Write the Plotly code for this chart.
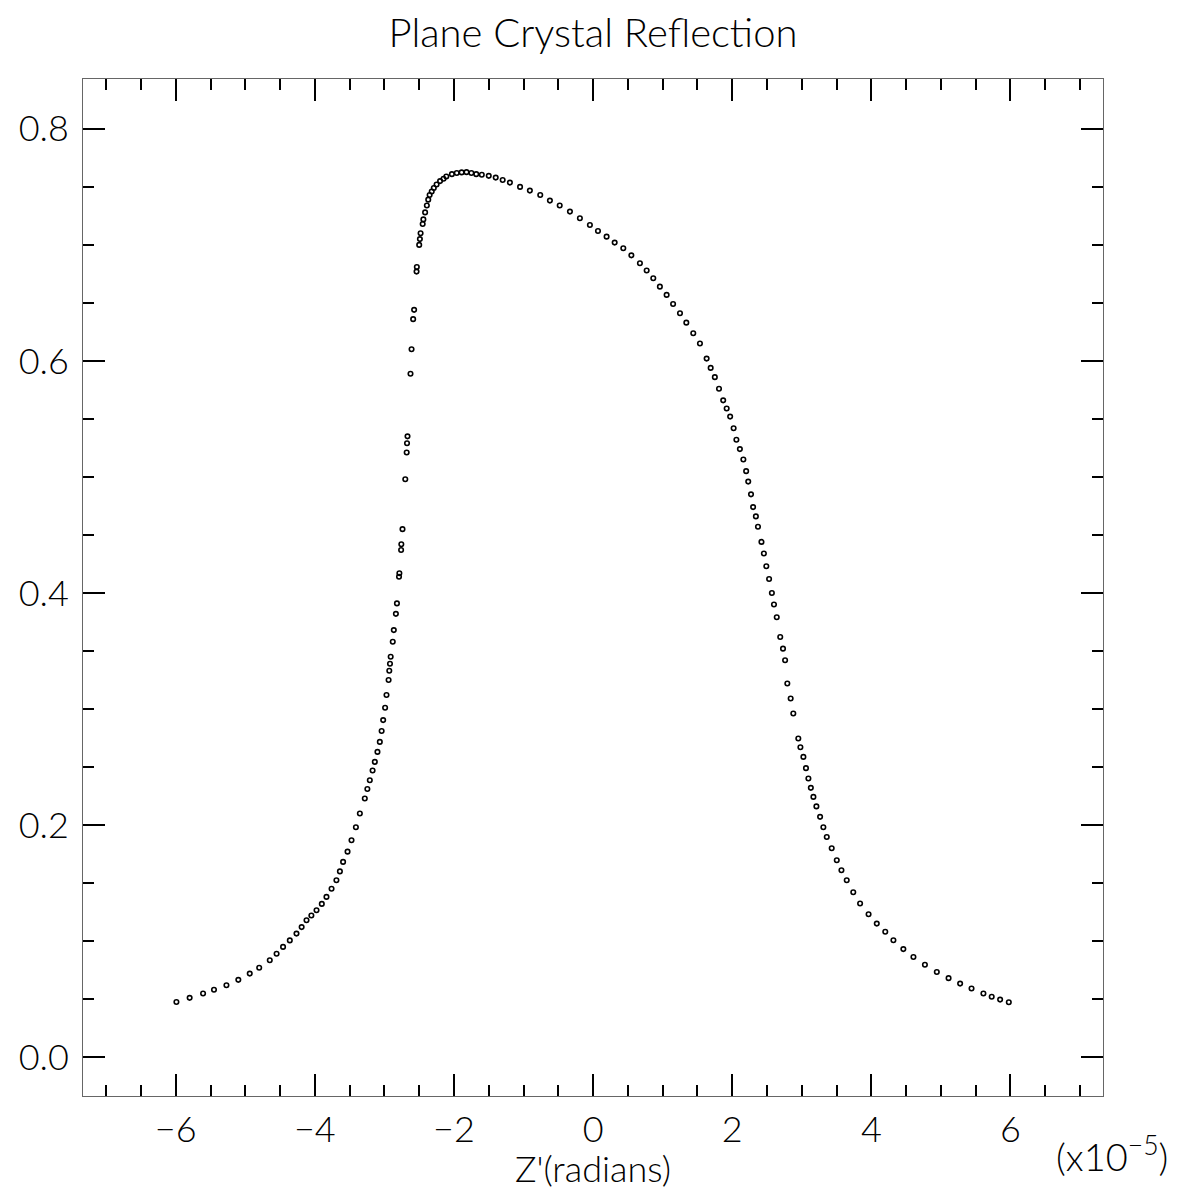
import plotly.graph_objects as go

# Z' (units of 1e-5 radians) and reflectivity
z_prime = [
    -5.99, -5.80, -5.607, -5.45, -5.271, -5.10, -4.936, -4.80, -4.648, -4.55,
    -4.457, -4.36, -4.264, -4.19, -4.12, -4.05, -3.976, -3.90, -3.833, -3.76,
    -3.69, -3.64, -3.594, -3.53, -3.473, -3.41, -3.353, -3.282, -3.245, -3.21,
    -3.17, -3.138, -3.10, -3.066, -3.04, -3.018, -2.99, -2.97, -2.94, -2.93,
    -2.92, -2.91, -2.88, -2.865, -2.835, -2.82, -2.79, -2.785, -2.76, -2.757,
    -2.74, -2.70, -2.68, -2.675, -2.668, -2.625, -2.61, -2.587, -2.573, -2.538,
    -2.534, -2.50, -2.49, -2.48, -2.45, -2.44, -2.415, -2.39, -2.37, -2.35,
    -2.32, -2.29, -2.25, -2.20, -2.15, -2.11, -2.03, -1.96, -1.89, -1.82,
    -1.75, -1.68, -1.60, -1.50, -1.40, -1.30, -1.196, -1.05, -0.909, -0.76,
    -0.621, -0.48, -0.333, -0.19, -0.046, 0.07, 0.194, 0.31, 0.434, 0.55,
    0.673, 0.77, 0.865, 0.96, 1.057, 1.15, 1.249, 1.34, 1.44, 1.536,
    1.632, 1.69, 1.75, 1.81, 1.87, 1.92, 1.97, 2.02, 2.06, 2.11,
    2.16, 2.20, 2.23, 2.27, 2.30, 2.34, 2.37, 2.42, 2.455, 2.49,
    2.53, 2.57, 2.60, 2.64, 2.69, 2.73, 2.76, 2.792, 2.84, 2.878,
    2.95, 2.98, 3.023, 3.06, 3.095, 3.13, 3.167, 3.21, 3.263, 3.31,
    3.359, 3.43, 3.503, 3.57, 3.646, 3.74, 3.838, 3.96, 4.078, 4.20,
    4.317, 4.46, 4.605, 4.77, 4.941, 5.11, 5.276, 5.44, 5.611, 5.73,
    5.851, 5.976,
]
reflectivity = [
    0.0474, 0.051, 0.0547, 0.058, 0.0618, 0.0665, 0.0719, 0.077, 0.0834, 0.089,
    0.0949, 0.1005, 0.1064, 0.112, 0.1179, 0.122, 0.1265, 0.132, 0.138, 0.145,
    0.1524, 0.160, 0.1682, 0.177, 0.1869, 0.198, 0.2099, 0.2228, 0.231, 0.2386,
    0.247, 0.2544, 0.263, 0.2716, 0.281, 0.2904, 0.301, 0.312, 0.325, 0.333,
    0.339, 0.345, 0.358, 0.368, 0.382, 0.391, 0.414, 0.417, 0.437, 0.442,
    0.455, 0.498, 0.521, 0.529, 0.535, 0.589, 0.610, 0.636, 0.644, 0.677,
    0.681, 0.700, 0.705, 0.710, 0.718, 0.722, 0.728, 0.734, 0.739, 0.743,
    0.746, 0.749, 0.752, 0.755, 0.757, 0.759, 0.761, 0.762, 0.7625, 0.7627,
    0.762, 0.761, 0.7605, 0.7595, 0.758, 0.756, 0.7537, 0.750, 0.7468, 0.743,
    0.7382, 0.734, 0.7287, 0.723, 0.7172, 0.712, 0.7071, 0.702, 0.6971, 0.691,
    0.6842, 0.678, 0.6713, 0.664, 0.6569, 0.649, 0.6411, 0.633, 0.6238, 0.615,
    0.602, 0.594, 0.586, 0.576, 0.566, 0.559, 0.552, 0.542, 0.532, 0.524,
    0.515, 0.505, 0.496, 0.485, 0.474, 0.466, 0.457, 0.444, 0.434, 0.423,
    0.412, 0.400, 0.390, 0.379, 0.362, 0.352, 0.342, 0.322, 0.309, 0.2961,
    0.2746, 0.267, 0.2587, 0.249, 0.2401, 0.232, 0.2242, 0.216, 0.207, 0.198,
    0.1897, 0.180, 0.1696, 0.161, 0.1524, 0.142, 0.1323, 0.123, 0.115, 0.108,
    0.1006, 0.093, 0.0862, 0.0795, 0.0733, 0.068, 0.0633, 0.059, 0.0547, 0.052,
    0.0495, 0.0472,
]

FONT = "Lato"
fig = go.Figure()
fig.add_trace(go.Scatter(
    x=z_prime, y=reflectivity, mode="markers",
    marker=dict(symbol="circle-open", size=4.5, color="black", line=dict(width=1.6, color="black")),
    showlegend=False,
))

axis_common = dict(
    showline=True, linecolor="#666", linewidth=1, mirror="ticks",
    ticks="inside", ticklen=22, tickwidth=2, tickcolor="black",
    showgrid=False, zeroline=False,
    tickfont=dict(family=FONT, size=36, color="black", weight=300),
)

fig.update_layout(
    width=1170, height=1187,
    margin=dict(l=75, r=75, t=71, b=99),
    plot_bgcolor="white", paper_bgcolor="white",
    title=dict(text="Plane Crystal Reflection", x=0.5, xanchor="center",
               yref="container", y=1 - 25 / 1187, yanchor="middle",
               font=dict(family=FONT, size=40, color="black", weight=300)),
    xaxis=dict(range=[-7.333, 7.33], tick0=0, dtick=2, tickformat="d",
               minor=dict(dtick=0.5, ticks="inside", ticklen=11, tickwidth=2, tickcolor="black"),
               ticklabelstandoff=2,
               **axis_common),
    yaxis=dict(range=[-0.0336, 0.843], tick0=0, dtick=0.2, tickformat=".1f",
               minor=dict(dtick=0.05, ticks="inside", ticklen=11, tickwidth=2, tickcolor="black"),
               ticklabelstandoff=6,
               **axis_common),
    annotations=[
        dict(text="Z'(radians)", xref="paper", yref="paper", x=0.5, y=-0.071,
             xanchor="center", yanchor="middle", showarrow=False,
             font=dict(family=FONT, size=36, color="black", weight=300)),
        dict(text="(x10<sup>−5</sup>)", xref="paper", yref="paper", x=1.0657, y=-0.057,
             xanchor="right", yanchor="middle", showarrow=False,
             font=dict(family=FONT, size=38, color="black", weight=300)),
    ],
)

fig.write_html("out.html")
